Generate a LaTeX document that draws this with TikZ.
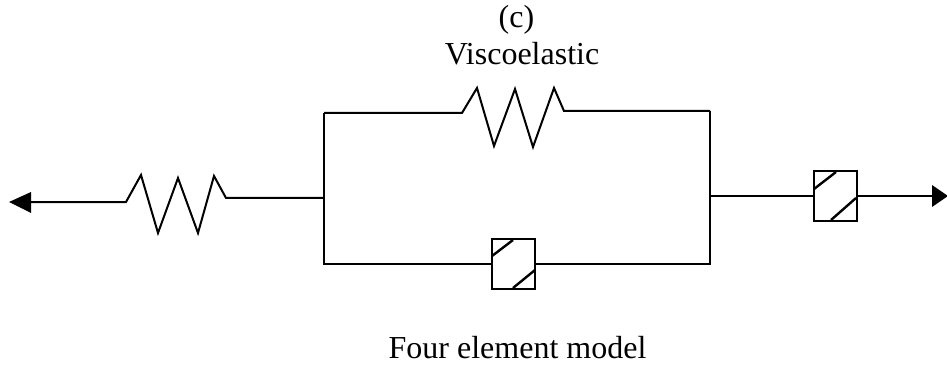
\documentclass[tikz,border=0pt]{standalone}
\usepackage{fontspec}
\setmainfont{Liberation Serif}
\usetikzlibrary{arrows.meta}
\tikzset{
  wire/.style={line width=2pt,line join=miter},
  damper/.style={draw,line width=2pt,minimum width=43pt,minimum height=50pt,inner sep=0pt,outer sep=0pt},
  slash/.style={line width=2.4pt},
  arrowtip/.style={fill=black,draw=none},
  label/.style={font=\fontsize{32}{32}\selectfont,inner sep=0pt,anchor=center}
}
\begin{document}
\begin{tikzpicture}[x=1pt,y=-1pt]
\useasboundingbox (0,0) rectangle (947,366);
% free ends and junctions
\coordinate (tipL) at (9,202);
\coordinate (baseL) at (31,202);
\coordinate (tipR) at (948,196);
\coordinate (baseR) at (932,196);
\coordinate (jL) at (324,198);
\coordinate (jR) at (710,196);
\coordinate (tl) at (324,113);
\coordinate (tr) at (710,111);
\coordinate (bl) at (324,264);
\coordinate (br) at (710,264);
% dampers
\node[damper] (d1) at (513.5,264) {};
\node[damper] (d2) at (835,196) {};
\draw[slash] (492,256) -- (513,240);
\draw[slash] (513,288) -- (535,270);
\draw[slash] (814,189) -- (836,172);
\draw[slash] (831,220) -- (856,198);
% arrowheads
\fill[arrowtip] (tipL) -- (31,192) -- (31,213) -- cycle;
\fill[arrowtip] (tipR) -- (932,185) -- (932,207) -- cycle;
% left spring
\draw[wire] (baseL) -- (126,202) -- (141,175) -- (158,233) -- (178,178) -- (198,233) -- (214,176) -- (226,198) -- (jL);
% top spring
\draw[wire] (tl) -- (462,113) -- (477,88) -- (494,146) -- (515,89) -- (533,147) -- (554,88) -- (564,111) -- (tr);
% frame
\draw[wire] (tl) -- (bl) -- (d1.west);
\draw[wire] (d1.east) -- (br) -- (tr);
\draw[wire] (jR) -- (d2.west);
\draw[wire] (d2.east) -- (baseR);
% labels
\node[label] (c) at (516.5,20) {(c)};
\node[label] (v) at (522,54) {Viscoelastic};
\node[label] (m) at (517.5,348) {Four element model};
\end{tikzpicture}
\end{document}
